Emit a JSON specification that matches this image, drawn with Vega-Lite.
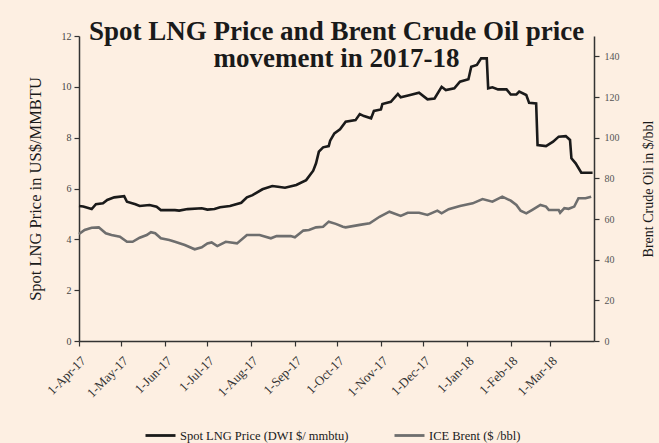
{
  "$schema": "https://vega.github.io/schema/vega-lite/v6.json",
  "width": 515,
  "height": 305,
  "autosize": {"type": "none"},
  "padding": {"left": 79, "top": 36, "right": 65, "bottom": 102},
  "background": "#fdefe2",
  "title": {
    "text": ["Spot LNG Price and Brent Crude Oil price", "movement in 2017-18"],
    "font": "Liberation Serif",
    "fontSize": 27,
    "fontWeight": "bold",
    "color": "#1a1a1a",
    "anchor": "middle",
    "frame": "group",
    "baseline": "alphabetic",
    "lineHeight": 27,
    "offset": -63
  },
  "config": {
    "view": {"stroke": null},
    "axis": {"grid": false, "domainColor": "#333333", "domainWidth": 1.5, "tickColor": "#333333", "tickSize": 5, "tickWidth": 1.2}
  },
  "data": {
    "values": [
      {"d": "2017-04-01", "s": "LNG", "v": 5.31},
      {"d": "2017-04-04", "s": "LNG", "v": 5.29},
      {"d": "2017-04-10", "s": "LNG", "v": 5.19},
      {"d": "2017-04-13", "s": "LNG", "v": 5.38},
      {"d": "2017-04-18", "s": "LNG", "v": 5.42},
      {"d": "2017-04-21", "s": "LNG", "v": 5.55},
      {"d": "2017-04-26", "s": "LNG", "v": 5.65},
      {"d": "2017-05-03", "s": "LNG", "v": 5.70},
      {"d": "2017-05-05", "s": "LNG", "v": 5.48},
      {"d": "2017-05-11", "s": "LNG", "v": 5.38},
      {"d": "2017-05-14", "s": "LNG", "v": 5.31},
      {"d": "2017-05-21", "s": "LNG", "v": 5.35},
      {"d": "2017-05-26", "s": "LNG", "v": 5.28},
      {"d": "2017-05-29", "s": "LNG", "v": 5.15},
      {"d": "2017-06-08", "s": "LNG", "v": 5.15},
      {"d": "2017-06-11", "s": "LNG", "v": 5.13},
      {"d": "2017-06-17", "s": "LNG", "v": 5.19},
      {"d": "2017-06-27", "s": "LNG", "v": 5.22},
      {"d": "2017-07-01", "s": "LNG", "v": 5.17},
      {"d": "2017-07-06", "s": "LNG", "v": 5.19},
      {"d": "2017-07-10", "s": "LNG", "v": 5.26},
      {"d": "2017-07-17", "s": "LNG", "v": 5.31},
      {"d": "2017-07-25", "s": "LNG", "v": 5.44},
      {"d": "2017-07-29", "s": "LNG", "v": 5.65},
      {"d": "2017-08-02", "s": "LNG", "v": 5.74},
      {"d": "2017-08-09", "s": "LNG", "v": 5.97},
      {"d": "2017-08-16", "s": "LNG", "v": 6.10},
      {"d": "2017-08-20", "s": "LNG", "v": 6.07},
      {"d": "2017-08-25", "s": "LNG", "v": 6.03},
      {"d": "2017-09-02", "s": "LNG", "v": 6.14},
      {"d": "2017-09-09", "s": "LNG", "v": 6.33},
      {"d": "2017-09-14", "s": "LNG", "v": 6.70},
      {"d": "2017-09-16", "s": "LNG", "v": 6.99},
      {"d": "2017-09-18", "s": "LNG", "v": 7.45},
      {"d": "2017-09-21", "s": "LNG", "v": 7.62},
      {"d": "2017-09-25", "s": "LNG", "v": 7.67},
      {"d": "2017-09-26", "s": "LNG", "v": 7.88},
      {"d": "2017-09-29", "s": "LNG", "v": 8.17},
      {"d": "2017-10-03", "s": "LNG", "v": 8.33},
      {"d": "2017-10-07", "s": "LNG", "v": 8.63},
      {"d": "2017-10-14", "s": "LNG", "v": 8.69},
      {"d": "2017-10-17", "s": "LNG", "v": 8.93},
      {"d": "2017-10-20", "s": "LNG", "v": 8.85},
      {"d": "2017-10-25", "s": "LNG", "v": 8.76},
      {"d": "2017-10-27", "s": "LNG", "v": 9.05},
      {"d": "2017-11-01", "s": "LNG", "v": 9.11},
      {"d": "2017-11-02", "s": "LNG", "v": 9.32},
      {"d": "2017-11-08", "s": "LNG", "v": 9.41},
      {"d": "2017-11-13", "s": "LNG", "v": 9.72},
      {"d": "2017-11-15", "s": "LNG", "v": 9.59},
      {"d": "2017-11-21", "s": "LNG", "v": 9.67},
      {"d": "2017-11-28", "s": "LNG", "v": 9.77},
      {"d": "2017-12-04", "s": "LNG", "v": 9.51},
      {"d": "2017-12-09", "s": "LNG", "v": 9.54},
      {"d": "2017-12-14", "s": "LNG", "v": 10.0},
      {"d": "2017-12-17", "s": "LNG", "v": 9.87},
      {"d": "2017-12-23", "s": "LNG", "v": 9.94},
      {"d": "2017-12-27", "s": "LNG", "v": 10.2},
      {"d": "2018-01-02", "s": "LNG", "v": 10.3},
      {"d": "2018-01-04", "s": "LNG", "v": 10.79},
      {"d": "2018-01-08", "s": "LNG", "v": 10.86},
      {"d": "2018-01-11", "s": "LNG", "v": 11.12},
      {"d": "2018-01-15", "s": "LNG", "v": 11.12},
      {"d": "2018-01-16", "s": "LNG", "v": 9.94},
      {"d": "2018-01-19", "s": "LNG", "v": 9.98},
      {"d": "2018-01-23", "s": "LNG", "v": 9.90},
      {"d": "2018-01-29", "s": "LNG", "v": 9.90},
      {"d": "2018-02-01", "s": "LNG", "v": 9.70},
      {"d": "2018-02-05", "s": "LNG", "v": 9.70},
      {"d": "2018-02-07", "s": "LNG", "v": 9.81},
      {"d": "2018-02-12", "s": "LNG", "v": 9.68},
      {"d": "2018-02-14", "s": "LNG", "v": 9.37},
      {"d": "2018-02-19", "s": "LNG", "v": 9.35},
      {"d": "2018-02-20", "s": "LNG", "v": 7.71},
      {"d": "2018-02-26", "s": "LNG", "v": 7.67},
      {"d": "2018-03-03", "s": "LNG", "v": 7.84},
      {"d": "2018-03-07", "s": "LNG", "v": 8.04},
      {"d": "2018-03-12", "s": "LNG", "v": 8.06},
      {"d": "2018-03-15", "s": "LNG", "v": 7.91},
      {"d": "2018-03-16", "s": "LNG", "v": 7.19},
      {"d": "2018-03-19", "s": "LNG", "v": 6.99},
      {"d": "2018-03-23", "s": "LNG", "v": 6.62},
      {"d": "2018-03-31", "s": "LNG", "v": 6.62},
      {"d": "2017-04-01", "s": "Brent", "v": 52.6},
      {"d": "2017-04-05", "s": "Brent", "v": 54.6},
      {"d": "2017-04-10", "s": "Brent", "v": 55.7},
      {"d": "2017-04-15", "s": "Brent", "v": 55.9},
      {"d": "2017-04-20", "s": "Brent", "v": 53.0},
      {"d": "2017-04-24", "s": "Brent", "v": 52.1},
      {"d": "2017-04-30", "s": "Brent", "v": 51.3},
      {"d": "2017-05-05", "s": "Brent", "v": 48.8},
      {"d": "2017-05-09", "s": "Brent", "v": 48.8},
      {"d": "2017-05-14", "s": "Brent", "v": 50.8},
      {"d": "2017-05-19", "s": "Brent", "v": 52.1},
      {"d": "2017-05-22", "s": "Brent", "v": 53.5},
      {"d": "2017-05-25", "s": "Brent", "v": 53.0},
      {"d": "2017-05-29", "s": "Brent", "v": 50.5},
      {"d": "2017-06-04", "s": "Brent", "v": 49.7},
      {"d": "2017-06-08", "s": "Brent", "v": 48.8},
      {"d": "2017-06-15", "s": "Brent", "v": 47.2},
      {"d": "2017-06-22", "s": "Brent", "v": 45.1},
      {"d": "2017-06-27", "s": "Brent", "v": 46.1},
      {"d": "2017-07-01", "s": "Brent", "v": 48.0},
      {"d": "2017-07-04", "s": "Brent", "v": 48.5},
      {"d": "2017-07-08", "s": "Brent", "v": 46.7},
      {"d": "2017-07-14", "s": "Brent", "v": 48.8},
      {"d": "2017-07-22", "s": "Brent", "v": 48.0},
      {"d": "2017-07-29", "s": "Brent", "v": 52.1},
      {"d": "2017-08-07", "s": "Brent", "v": 52.1},
      {"d": "2017-08-15", "s": "Brent", "v": 50.5},
      {"d": "2017-08-19", "s": "Brent", "v": 51.6},
      {"d": "2017-08-29", "s": "Brent", "v": 51.6},
      {"d": "2017-09-01", "s": "Brent", "v": 51.0},
      {"d": "2017-09-07", "s": "Brent", "v": 54.3},
      {"d": "2017-09-11", "s": "Brent", "v": 54.6},
      {"d": "2017-09-16", "s": "Brent", "v": 55.9},
      {"d": "2017-09-21", "s": "Brent", "v": 56.2},
      {"d": "2017-09-25", "s": "Brent", "v": 58.7},
      {"d": "2017-09-30", "s": "Brent", "v": 57.6},
      {"d": "2017-10-05", "s": "Brent", "v": 56.2},
      {"d": "2017-10-07", "s": "Brent", "v": 55.9},
      {"d": "2017-10-17", "s": "Brent", "v": 57.1},
      {"d": "2017-10-24", "s": "Brent", "v": 57.9},
      {"d": "2017-10-31", "s": "Brent", "v": 61.1},
      {"d": "2017-11-07", "s": "Brent", "v": 63.6},
      {"d": "2017-11-15", "s": "Brent", "v": 61.5},
      {"d": "2017-11-20", "s": "Brent", "v": 63.1},
      {"d": "2017-11-28", "s": "Brent", "v": 63.1},
      {"d": "2017-12-04", "s": "Brent", "v": 62.0},
      {"d": "2017-12-11", "s": "Brent", "v": 64.1},
      {"d": "2017-12-14", "s": "Brent", "v": 62.8},
      {"d": "2017-12-19", "s": "Brent", "v": 64.8},
      {"d": "2017-12-27", "s": "Brent", "v": 66.4},
      {"d": "2018-01-05", "s": "Brent", "v": 67.7},
      {"d": "2018-01-12", "s": "Brent", "v": 69.8},
      {"d": "2018-01-19", "s": "Brent", "v": 68.5},
      {"d": "2018-01-26", "s": "Brent", "v": 71.0},
      {"d": "2018-02-01", "s": "Brent", "v": 69.0},
      {"d": "2018-02-05", "s": "Brent", "v": 66.9},
      {"d": "2018-02-08", "s": "Brent", "v": 64.1},
      {"d": "2018-02-12", "s": "Brent", "v": 62.8},
      {"d": "2018-02-16", "s": "Brent", "v": 64.4},
      {"d": "2018-02-22", "s": "Brent", "v": 66.9},
      {"d": "2018-02-26", "s": "Brent", "v": 66.1},
      {"d": "2018-02-28", "s": "Brent", "v": 64.4},
      {"d": "2018-03-07", "s": "Brent", "v": 64.4},
      {"d": "2018-03-08", "s": "Brent", "v": 63.1},
      {"d": "2018-03-11", "s": "Brent", "v": 65.3},
      {"d": "2018-03-14", "s": "Brent", "v": 65.0},
      {"d": "2018-03-18", "s": "Brent", "v": 66.1},
      {"d": "2018-03-21", "s": "Brent", "v": 70.2},
      {"d": "2018-03-26", "s": "Brent", "v": 70.2},
      {"d": "2018-03-30", "s": "Brent", "v": 71.0}
    ]
  },
  "encoding": {
    "x": {
      "field": "d",
      "type": "temporal",
      "scale": {"type": "utc", "domain": [{"year": 2017, "month": 4, "date": 1, "utc": true}, {"year": 2018, "month": 4, "date": 1, "utc": true}]},
      "axis": {
        "title": null,
        "values": [
          {"year": 2017, "month": 4, "date": 1, "utc": true},
          {"year": 2017, "month": 5, "date": 1, "utc": true},
          {"year": 2017, "month": 6, "date": 1, "utc": true},
          {"year": 2017, "month": 7, "date": 1, "utc": true},
          {"year": 2017, "month": 8, "date": 1, "utc": true},
          {"year": 2017, "month": 9, "date": 1, "utc": true},
          {"year": 2017, "month": 10, "date": 1, "utc": true},
          {"year": 2017, "month": 11, "date": 1, "utc": true},
          {"year": 2017, "month": 12, "date": 1, "utc": true},
          {"year": 2018, "month": 1, "date": 1, "utc": true},
          {"year": 2018, "month": 2, "date": 1, "utc": true},
          {"year": 2018, "month": 3, "date": 1, "utc": true}
        ],
        "labelExpr": "utcFormat(datum.value, '%-d-%b-%y')",
        "labelOverlap": false,
        "labelAngle": -45,
        "labelFont": "Liberation Serif",
        "labelFontSize": 13,
        "labelColor": "#333333",
        "labelPadding": 8
      }
    },
    "color": {
      "field": "s",
      "type": "nominal",
      "scale": {"domain": ["LNG", "Brent"], "range": ["#1a1a1a", "#6e6e6e"]},
      "legend": {
        "title": null,
        "orient": "none",
        "direction": "horizontal",
        "legendX": 65,
        "legendY": 383,
        "symbolType": "stroke",
        "symbolSize": 900,
        "symbolStrokeWidth": 2.8,
        "labelFont": "Liberation Serif",
        "labelFontSize": 12.5,
        "labelColor": "#1a1a1a",
        "labelLimit": 300,
        "labelOffset": 3,
        "columnPadding": 36,
        "labelExpr": "datum.label == 'LNG' ? 'Spot LNG Price (DWI  $/ mmbtu)' : 'ICE Brent ($ /bbl)'"
      }
    }
  },
  "layer": [
    {
      "transform": [{"filter": "datum.s == 'LNG'"}],
      "mark": {"type": "line", "strokeWidth": 2.6},
      "encoding": {
        "y": {
          "field": "v",
          "type": "quantitative",
          "scale": {"domain": [0, 12]},
          "axis": {
            "orient": "left",
            "values": [0, 2, 4, 6, 8, 10, 12],
            "title": "Spot LNG Price in US$/MMBTU",
            "titleFont": "Liberation Serif",
            "titleFontSize": 16.5,
            "titleFontWeight": "normal",
            "titleColor": "#1a1a1a",
            "titlePadding": 18,
            "labelFont": "Liberation Serif",
            "labelFontSize": 10,
            "labelColor": "#444444",
            "labelPadding": 3
          }
        }
      }
    },
    {
      "transform": [{"filter": "datum.s == 'Brent'"}],
      "mark": {"type": "line", "strokeWidth": 2.6},
      "encoding": {
        "y": {
          "field": "v",
          "type": "quantitative",
          "scale": {"domain": [0, 150]},
          "axis": {
            "orient": "right",
            "values": [0, 20, 40, 60, 80, 100, 120, 140],
            "title": "Brent Crude Oil in $/bbl",
            "titleAngle": 270,
            "titleFont": "Liberation Serif",
            "titleFontSize": 14,
            "titleFontWeight": "normal",
            "titleColor": "#1a1a1a",
            "titlePadding": 36,
            "labelFont": "Liberation Serif",
            "labelFontSize": 10,
            "labelColor": "#555555",
            "labelPadding": 5
          }
        }
      }
    }
  ],
  "resolve": {"scale": {"y": "independent"}, "axis": {"y": "independent"}}
}
